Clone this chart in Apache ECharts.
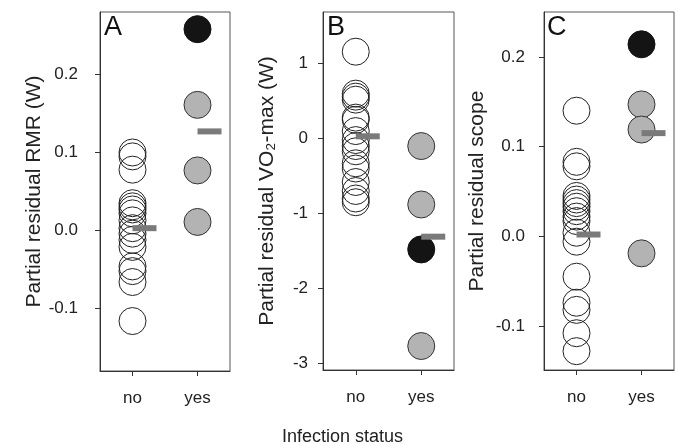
<!DOCTYPE html>
<html>
<head>
<meta charset="utf-8">
<script src="https://cdn.jsdelivr.net/npm/echarts@6/dist/echarts.min.js"></script>
<style>html,body{margin:0;padding:0;background:#fff}#c{width:678px;height:445px}</style>
</head>
<body>
<div id="c"></div>
<script>
const categories = ['no', 'yes'];

// Panel A: RMR
const rmrNo = [0.100, 0.095, 0.078, 0.035, 0.031, 0.027, 0.022, 0.013, 0.003, -0.004, -0.012, -0.021, -0.046, -0.052, -0.066, -0.116];
const rmrYesGray = [0.161, 0.077, 0.011];
const rmrYesBlack = [0.258];
const rmrMeans = [0.003, 0.127];
const rmrTicks = [-0.1, 0.0, 0.1, 0.2];

// Panel B: VO2-max
const vo2No = [1.16, 0.60, 0.56, 0.52, 0.28, 0.25, 0.10, -0.02, -0.10, -0.17, -0.33, -0.40, -0.58, -0.70, -0.80, -0.85];
const vo2YesGray = [-0.10, -0.88, -2.77];
const vo2YesBlack = [-1.48];
const vo2Means = [0.03, -1.31];
const vo2Ticks = [-3, -2, -1, 0, 1];

// Panel C: scope
const scopeNo = [0.140, 0.083, 0.078, 0.045, 0.041, 0.037, 0.033, 0.028, 0.022, 0.017, 0.004, -0.006, -0.045, -0.074, -0.082, -0.108, -0.128];
const scopeYesGray = [0.147, 0.119, -0.019];
const scopeYesBlack = [0.214];
const scopeMeans = [0.002, 0.115];
const scopeTicks = [-0.1, 0.0, 0.1, 0.2];

const FONT = 'Liberation Sans, Arial, sans-serif';
const chart = echarts.init(document.getElementById('c'), null, {renderer: 'canvas'});

const panels = [
  {no: rmrNo, gray: rmrYesGray, black: rmrYesBlack, means: rmrMeans, ticks: rmrTicks, min: -0.18, max: 0.28, dec: 1,
   name: 'Partial residual RMR (W)', letter: 'A', grid: {left: 100, top: 12, width: 130, height: 359},
   letterPos: [104, 14], labelMargin: 22, nameGap: 55},
  {no: vo2No, gray: vo2YesGray, black: vo2YesBlack, means: vo2Means, ticks: vo2Ticks, min: -3.09, max: 1.69, dec: 0,
   name: 'Partial residual VO₂-max (W)', letter: 'B', grid: {left: 323, top: 12, width: 131, height: 358},
   letterPos: [327, 14], labelMargin: 15, nameGap: 45},
  {no: scopeNo, gray: scopeYesGray, black: scopeYesBlack, means: scopeMeans, ticks: scopeTicks, min: -0.149, max: 0.25, dec: 1,
   name: 'Partial residual scope', letter: 'C', grid: {left: 544, top: 12, width: 130, height: 358},
   letterPos: [547, 14], labelMargin: 19, nameGap: 56}
];

const grid = [], xAxis = [], yAxis = [], series = [], title = [];
panels.forEach((p, i) => {
  grid.push(Object.assign({show: true, borderColor: '#555', borderWidth: 1, backgroundColor: 'transparent'}, p.grid));
  xAxis.push({
    type: 'category', gridIndex: i, data: categories, boundaryGap: true,
    axisLine: {show: true, onZero: false, lineStyle: {color: '#333', width: 1}},
    axisTick: {show: true, alignWithLabel: true, length: 5, lineStyle: {color: '#333'}},
    axisLabel: {fontSize: 17, color: '#222', fontFamily: FONT, margin: 19},
    splitLine: {show: false}
  });
  yAxis.push({
    type: 'value', gridIndex: i, min: p.min, max: p.max,
    name: p.name, nameLocation: 'middle', nameGap: p.nameGap,
    nameTextStyle: {fontSize: 21, color: '#222', fontFamily: FONT},
    axisLine: {show: true, onZero: false, lineStyle: {color: '#333', width: 1}},
    axisTick: {show: true, length: 5, lineStyle: {color: '#333'}, customValues: p.ticks},
    axisLabel: {fontSize: 17, color: '#222', fontFamily: FONT, margin: p.labelMargin, customValues: p.ticks,
      formatter: v => Number(v).toFixed(p.dec)},
    splitLine: {show: false}
  });
  series.push({
    type: 'scatter', xAxisIndex: i, yAxisIndex: i, symbolSize: 27, z: 2,
    data: p.no.map(v => ['no', v]),
    itemStyle: {color: 'transparent', borderColor: '#222', borderWidth: 1, opacity: 1}
  });
  series.push({
    type: 'scatter', xAxisIndex: i, yAxisIndex: i, symbolSize: 27, z: 2,
    data: p.gray.map(v => ['yes', v]),
    itemStyle: {color: '#b3b3b3', borderColor: '#333', borderWidth: 1, opacity: 1}
  });
  series.push({
    type: 'scatter', xAxisIndex: i, yAxisIndex: i, symbolSize: 27, z: 2,
    data: p.black.map(v => ['yes', v]),
    itemStyle: {color: '#141414', borderColor: '#111', borderWidth: 1, opacity: 1}
  });
  series.push({
    type: 'scatter', xAxisIndex: i, yAxisIndex: i, z: 3,
    symbol: 'rect', symbolSize: [24, 6], symbolOffset: [12, 0],
    data: categories.map((c, k) => [c, p.means[k]]),
    itemStyle: {color: '#7a7a7a', opacity: 1}
  });
  title.push({text: p.letter, left: p.letterPos[0], top: p.letterPos[1], padding: 0,
    textStyle: {fontSize: 27, fontWeight: 'normal', color: '#111', fontFamily: FONT}});
});

chart.setOption({
  animation: false,
  backgroundColor: '#fff',
  title, grid, xAxis, yAxis, series,
  graphic: [{type: 'text', left: 282, top: 428,
    style: {text: 'Infection status', fontSize: 18, fill: '#222', fontFamily: FONT}}]
});
</script>
</body>
</html>
